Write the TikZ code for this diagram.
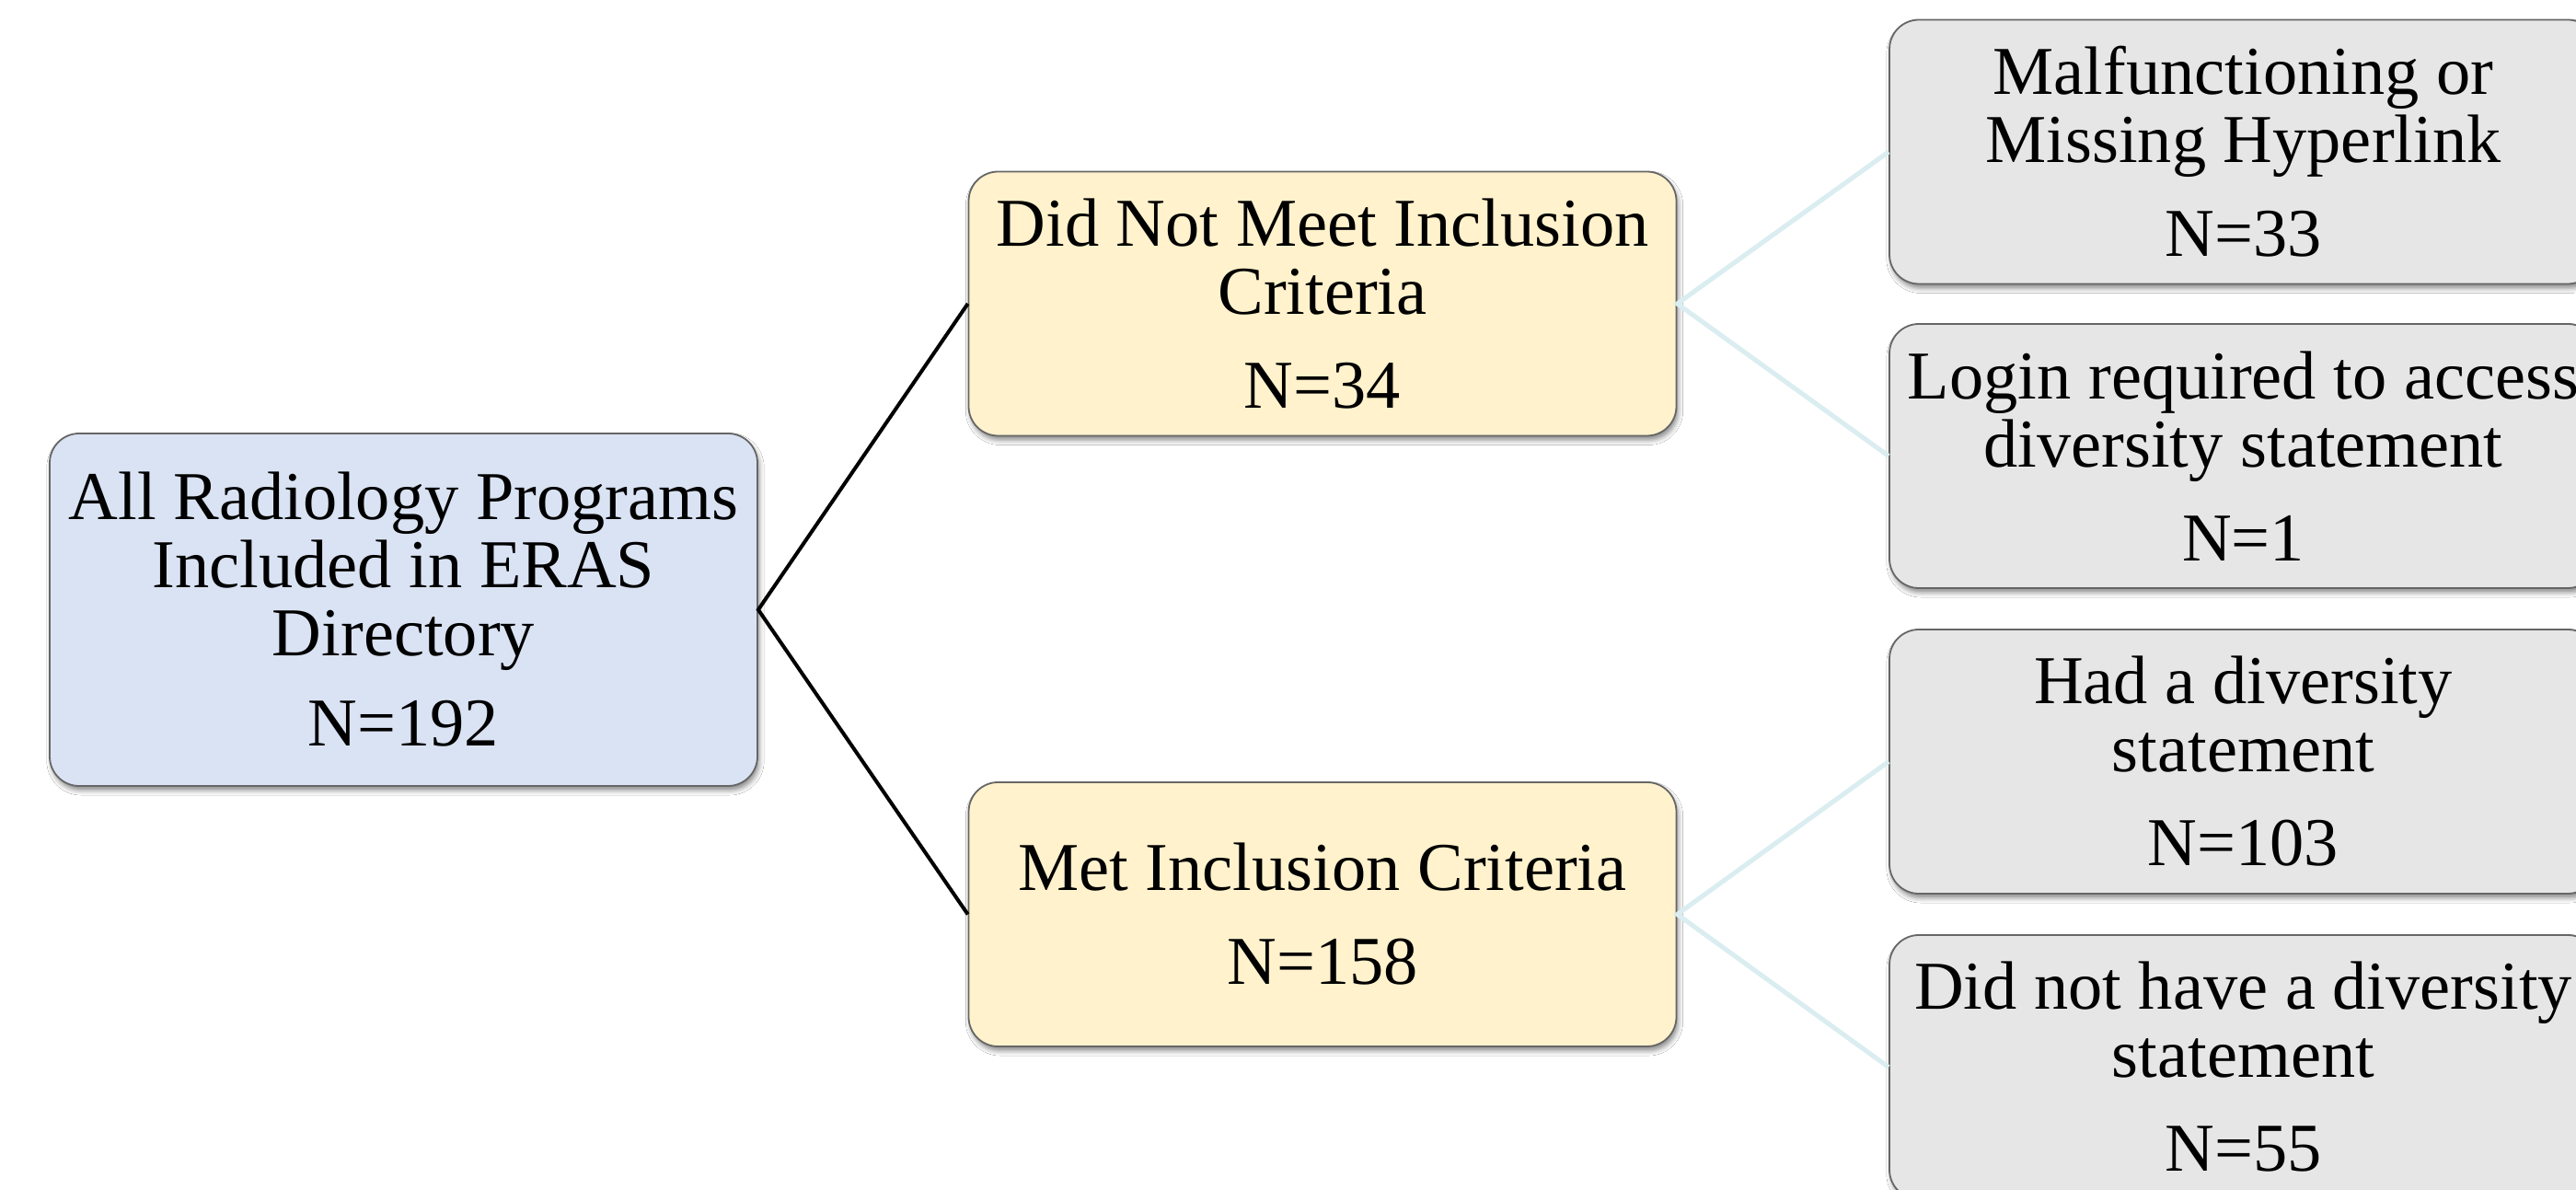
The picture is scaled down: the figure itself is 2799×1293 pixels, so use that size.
\documentclass[tikz,border=0pt]{standalone}
\usepackage{fontspec}
\setmainfont{Liberation Serif}
\usetikzlibrary{shadows.blur}
\definecolor{rootfill}{HTML}{DAE3F3}
\definecolor{midfill}{HTML}{FFF2CC}
\definecolor{leaffill}{HTML}{E6E6E6}
\definecolor{boxline}{HTML}{666666}
\definecolor{leafline}{HTML}{DAEDF0}
\tikzset{
  box/.style={draw=boxline, line width=0.45pt, rounded corners=8pt,
    minimum width=192.25pt, minimum height=71.75pt, align=center, inner sep=0pt,
    font=\fontsize{18.6}{18.5}\selectfont,
    blur shadow={shadow xshift=0.5pt, shadow yshift=-1.2pt, shadow blur radius=1.3pt, shadow opacity=45}},
  rootbox/.style={box, fill=rootfill, minimum height=95.75pt},
  midbox/.style={box, fill=midfill},
  leafbox/.style={box, fill=leaffill},
  mainlink/.style={draw=black, line width=1pt},
  leaflink/.style={draw=leafline, line width=1.25pt}
}
\begin{document}
\begin{tikzpicture}[x=0.25pt, y=-0.25pt]
\clip (0,0) rectangle (2799,1293);
\fill[white] (0,0) rectangle (2799,1293);
\node[rootbox] (root) at (438.5,662.5) {All Radiology Programs\\Included in ERAS\\Directory\\[6pt]N=192};
\node[midbox] (dnm) at (1437,330) {Did Not Meet Inclusion\\Criteria\\[7pt]N=34};
\node[midbox] (met) at (1437,993.5) {Met Inclusion Criteria\\[7pt]N=158};
\node[leafbox] (r1) at (2437.5,165) {Malfunctioning or\\Missing Hyperlink\\[7pt]N=33};
\node[leafbox] (r2) at (2437.5,495.5) {Login required to access\\diversity statement\\[7pt]N=1};
\node[leafbox] (r3) at (2437.5,827.5) {Had a diversity\\statement\\[7pt]N=103};
\node[leafbox] (r4) at (2437.5,1159.5) {Did not have a diversity\\statement\\[7pt]N=55};
\draw[mainlink] (dnm.west) -- (root.east) -- (met.west);
\draw[leaflink] (r1.west) -- (dnm.east) -- (r2.west);
\draw[leaflink] (r3.west) -- (met.east) -- (r4.west);
\end{tikzpicture}
\end{document}
